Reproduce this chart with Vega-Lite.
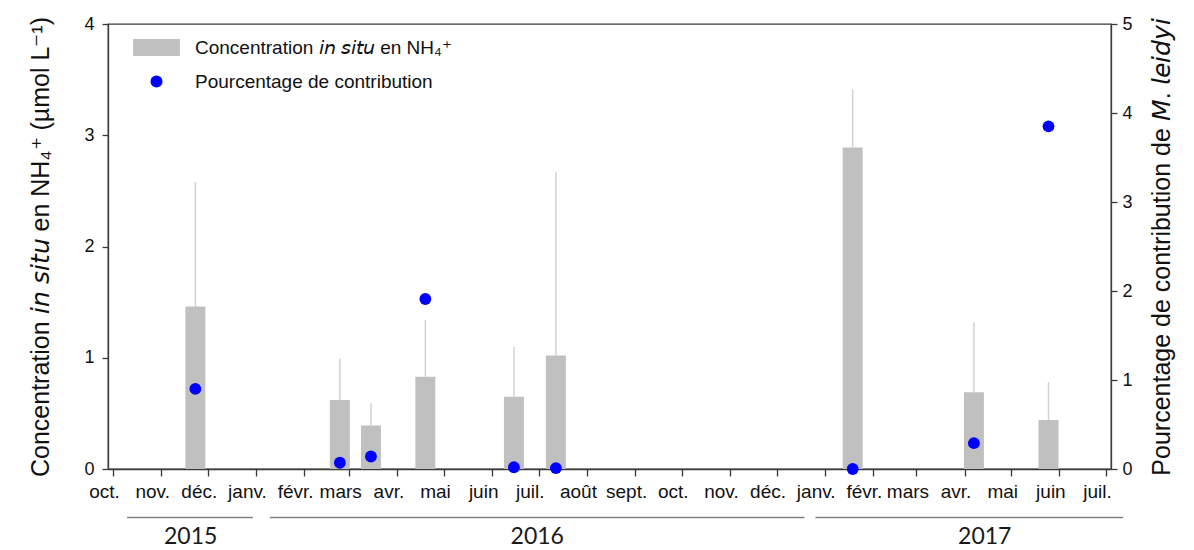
{
  "$schema": "https://vega.github.io/schema/vega-lite/v6.json",
  "width": 1003,
  "height": 445,
  "autosize": {"type": "none"},
  "padding": {"left": 108, "top": 24, "right": 83, "bottom": 81},
  "background": "white",
  "config": {
    "font": "Liberation Sans",
    "view": {"stroke": "#3a3a3a", "strokeWidth": 1.3},
    "axis": {
      "grid": false,
      "domainColor": "#3a3a3a",
      "domainWidth": 1.3,
      "tickColor": "#3a3a3a",
      "tickWidth": 1.3,
      "tickSize": 6,
      "labelColor": "#111111",
      "titleColor": "#111111",
      "labelFont": "Liberation Sans",
      "titleFont": "Liberation Sans",
      "labelFontSize": 18,
      "titleFontSize": 25,
      "titleFontWeight": "normal"
    },
    "legend": {
      "labelFont": "Liberation Sans",
      "labelFontSize": 19,
      "labelColor": "#111111",
      "labelLimit": 0
    }
  },
  "datasets": {
    "echantillons": [
      {"date": "2015-11-23", "nh4": 1.46, "nh4_max": 2.58, "contribution": 0.90},
      {"date": "2016-02-24", "nh4": 0.62, "nh4_max": 0.99, "contribution": 0.07},
      {"date": "2016-03-15", "nh4": 0.39, "nh4_max": 0.59, "contribution": 0.14},
      {"date": "2016-04-19", "nh4": 0.83, "nh4_max": 1.34, "contribution": 1.91},
      {"date": "2016-06-15", "nh4": 0.65, "nh4_max": 1.10, "contribution": 0.02},
      {"date": "2016-07-12", "nh4": 1.02, "nh4_max": 2.67, "contribution": 0.01},
      {"date": "2017-01-19", "nh4": 2.89, "nh4_max": 3.41, "contribution": 0.0},
      {"date": "2017-04-07", "nh4": 0.69, "nh4_max": 1.32, "contribution": 0.29},
      {"date": "2017-05-25", "nh4": 0.44, "nh4_max": 0.78, "contribution": 3.85}
    ],
    "annees": [
      {"annee": "2015", "debut": "2015-10-10", "fin": "2015-12-30", "centre": "2015-11-20"},
      {"annee": "2016", "debut": "2016-01-10", "fin": "2016-12-19", "centre": "2016-06-30"},
      {"annee": "2017", "debut": "2016-12-26", "fin": "2017-07-12", "centre": "2017-04-14"}
    ]
  },
  "layer": [
    {
      "layer": [
        {
          "data": {"name": "echantillons"},
          "mark": {"type": "bar", "width": 20},
          "encoding": {
            "x": {
              "field": "date",
              "type": "temporal",
              "title": null,
              "scale": {
                "type": "utc",
                "nice": false,
                "domain": [
                  {"year": 2015, "month": 10, "date": 1, "utc": true},
                  {"year": 2017, "month": 7, "date": 1, "utc": true}
                ]
              },
              "axis": {
                "tickCount": {"interval": "month", "step": 1},
                "tickSize": 7,
                "labelFontSize": 19,
                "labelPadding": 6,
                "labelOffset": -9,
                "labelOverlap": false,
                "labelBound": false,
                "labelFlush": false,
                "labelExpr": "['janv.','févr.','mars','avr.','mai','juin','juil.','août','sept.','oct.','nov.','déc.'][utcmonth(datum.value)]"
              }
            },
            "y": {
              "field": "nh4",
              "type": "quantitative",
              "scale": {"domain": [0, 4], "nice": false},
              "axis": {
                "values": [0, 1, 2, 3, 4],
                "format": "d",
                "labelPadding": 8,
                "titlePadding": 30,
                "title": "Concentration 𝘪𝘯 𝘴𝘪𝘵𝘶 en NH₄⁺ (µmol L⁻¹)"
              }
            },
            "color": {
              "datum": "Concentration 𝘪𝘯 𝘴𝘪𝘵𝘶 en NH₄⁺",
              "type": "nominal",
              "scale": {
                "domain": ["Concentration 𝘪𝘯 𝘴𝘪𝘵𝘶 en NH₄⁺", "Pourcentage de contribution"],
                "range": ["#c0c0c0", "#0000ff"]
              },
              "legend": {
                "title": null,
                "orient": "none",
                "legendX": 39,
                "legendY": 14,
                "padding": 0,
                "rowPadding": 14,
                "symbolSize": 144,
                "symbolOpacity": 1,
                "symbolStrokeWidth": 0,
                "labelOffset": 29,
                "labelLimit": 0,
                "encode": {
                  "symbols": {
                    "update": {
                      "shape": {"signal": "datum.value === 'Pourcentage de contribution' ? 'circle' : 'M-3.9,-1.4H3.9V1.4H-3.9Z'"},
                      "fillOpacity": {"value": 1},
                      "strokeWidth": {"value": 0}
                    }
                  }
                }
              }
            }
          }
        },
        {
          "data": {"name": "echantillons"},
          "mark": {"type": "rule", "color": "#d2d2d2", "strokeWidth": 1.5},
          "encoding": {
            "x": {"field": "date", "type": "temporal"},
            "y": {"field": "nh4", "type": "quantitative"},
            "y2": {"field": "nh4_max"}
          }
        },
        {
          "data": {"name": "annees"},
          "mark": {"type": "rule", "color": "#808080", "strokeWidth": 1.5},
          "encoding": {
            "x": {"field": "debut", "type": "temporal"},
            "x2": {"field": "fin"},
            "y": {"datum": -0.435, "type": "quantitative"}
          }
        },
        {
          "data": {"name": "annees"},
          "mark": {"type": "text", "font": "Lato", "fontSize": 23, "color": "#1a1a1a", "baseline": "middle", "align": "center"},
          "encoding": {
            "x": {"field": "centre", "type": "temporal"},
            "y": {"datum": -0.615, "type": "quantitative"},
            "text": {"field": "annee"}
          }
        }
      ]
    },
    {
      "data": {"name": "echantillons"},
      "mark": {"type": "point", "filled": true, "shape": "circle", "size": 140, "opacity": 1, "strokeWidth": 0},
      "encoding": {
        "x": {"field": "date", "type": "temporal"},
        "y": {
          "field": "contribution",
          "type": "quantitative",
          "scale": {"domain": [0, 5], "nice": false},
          "axis": {
            "orient": "right",
            "values": [0, 1, 2, 3, 4, 5],
            "labelPadding": 5,
            "titlePadding": 17,
            "titleAngle": -90,
            "titleBaseline": "top",
            "title": "Pourcentage de contribution de 𝘔. 𝘭𝘦𝘪𝘥𝘺𝘪"
          }
        },
        "color": {"datum": "Pourcentage de contribution", "type": "nominal"}
      }
    }
  ],
  "resolve": {"scale": {"y": "independent"}}
}
